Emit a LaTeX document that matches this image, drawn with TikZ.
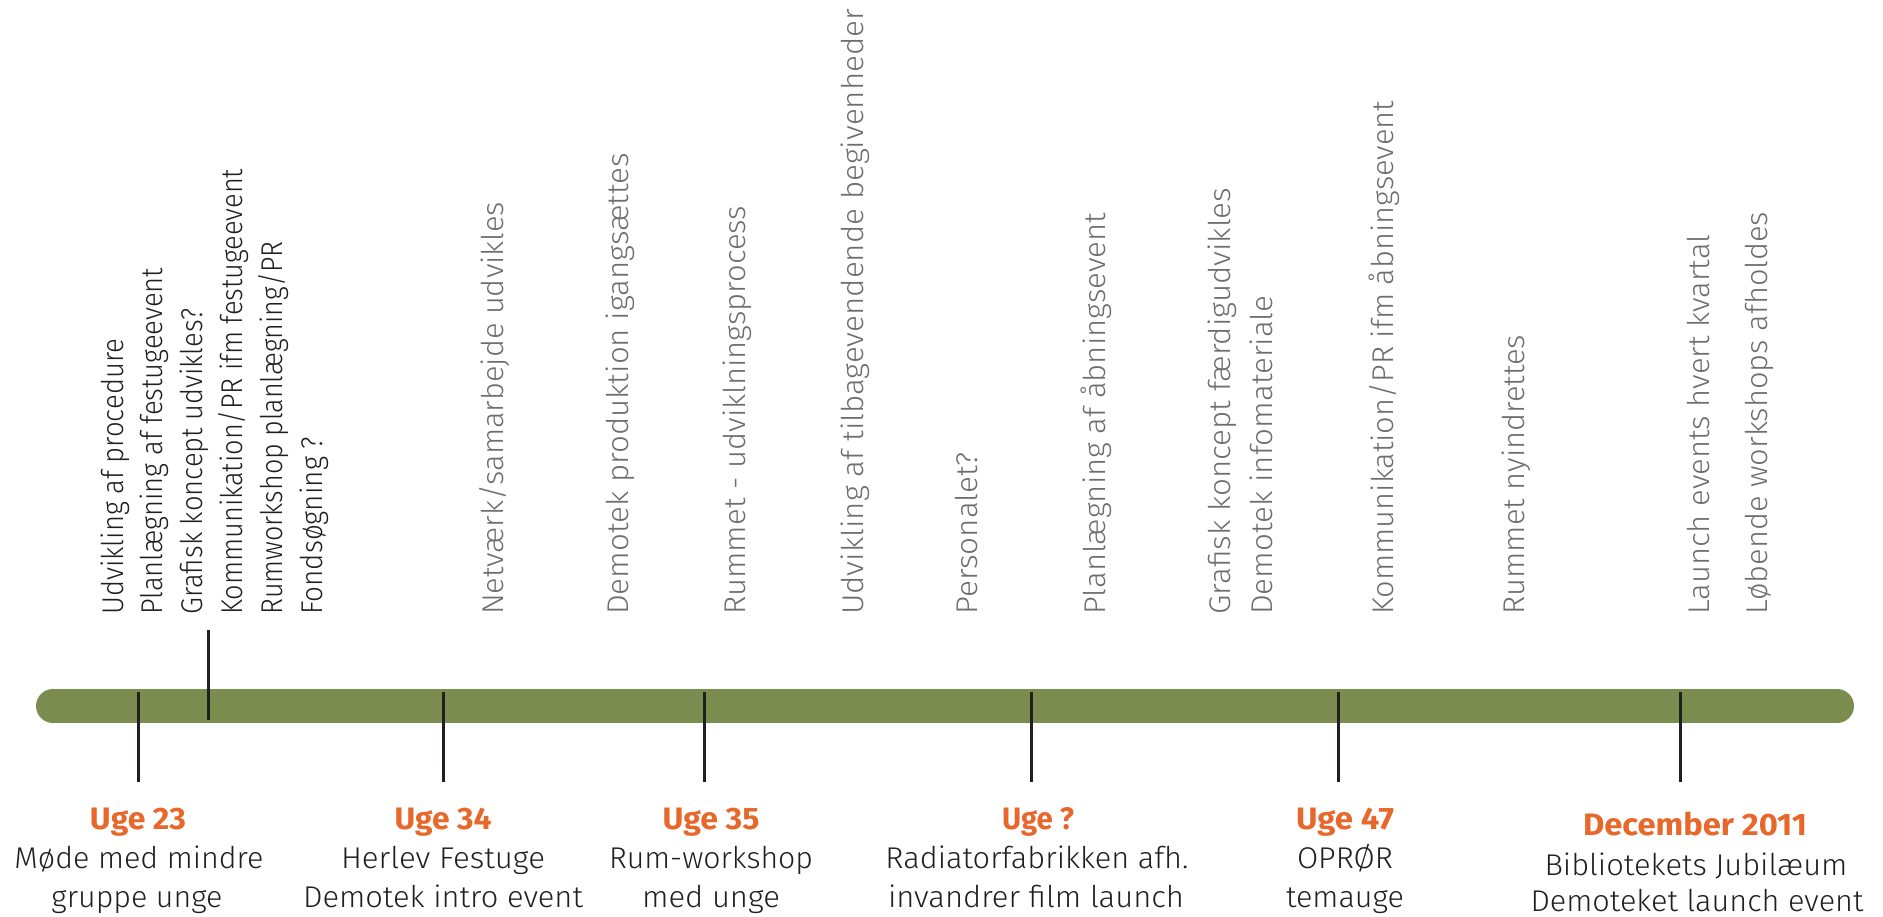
\documentclass[tikz,border=0pt]{standalone}
\usepackage{fontspec}
\setmainfont{Fira Sans}
\newfontfamily\lightfont{Fira Sans Light}
\newcommand\fw[2]{\resizebox{#1pt}{\height}{#2}}
\definecolor{bargreen}{RGB}{122,141,78}
\definecolor{orng}{RGB}{232,103,42}
\definecolor{ink}{RGB}{35,31,32}
\definecolor{greytxt}{RGB}{109,110,113}
\begin{document}
\begin{tikzpicture}[x=1pt,y=-1pt,
  vtext/.style={rotate=90,anchor=base west,inner sep=0pt},
  dark/.style={vtext,text=ink,font=\fontsize{30}{36}\lightfont},
  grey/.style={vtext,text=greytxt,font=\fontsize{30}{36}\lightfont},
  week/.style={anchor=base,inner sep=0pt,text=orng,font=\fontsize{31}{36}\selectfont\bfseries},
  desc/.style={anchor=base,inner sep=0pt,text=ink,font=\fontsize{30}{36}\lightfont},
  tick/.style={line width=3pt,draw=ink}]
\useasboundingbox (0,0) rectangle (1883,917);
% timeline bar
\coordinate (barL) at (53,706);
\coordinate (barR) at (1837,706);
\draw[line width=34pt,line cap=round,bargreen] (barL) -- (barR);
% ticks
\coordinate (t0a) at (208,630); \coordinate (t0b) at (208,720);
\draw[tick] (t0a) -- (t0b);
\foreach \i/\x in {1/138,2/443,3/704,4/1031,5/1338,6/1680}{
  \coordinate (t\i a) at (\x,692); \coordinate (t\i b) at (\x,782);
  \draw[tick] (t\i a) -- (t\i b);
}
% vertical texts, first group
\node[dark] (a1) at (123,615) {\fw{276}{Udvikling af procedure}};
\node[dark] (a2) at (162,615) {\fw{347}{Planlægning af festugeevent}};
\node[dark] (a3) at (202,615) {\fw{306}{Grafisk koncept udvikles?}};
\node[dark] (a4) at (242,615) {\fw{446}{Kommunikation/PR ifm festugeevent}};
\node[dark] (a5) at (282,615) {\fw{373}{Rumworkshop planlægning/PR}};
\node[dark] (a6) at (322,615) {\fw{178}{Fondsøgning ?}};
% vertical texts, grey
\node[grey] (b1) at (503,615) {\fw{413}{Netværk/samarbejde udvikles}};
\node[grey] (b2) at (628,615) {\fw{462}{Demotek produktion igangsættes}};
\node[grey] (b3) at (745,615) {\fw{409}{Rummet - udviklningsprocess}};
\node[grey] (b4) at (863,615) {\fw{606}{Udvikling af tilbagevendende begivenheder}};
\node[grey] (b5) at (977,615) {\fw{162}{Personalet?}};
\node[grey] (b6) at (1105,615) {\fw{402}{Planlægning af åbningsevent}};
\node[grey] (b7) at (1230,615) {\fw{427}{Grafisk koncept færdigudvikles}};
\node[grey] (b8) at (1272,615) {\fw{319}{Demotek infomateriale}};
\node[grey] (b9) at (1393,615) {\fw{514}{Kommunikation/PR ifm åbningsevent}};
\node[grey] (b10) at (1524,615) {\fw{280}{Rummet nyindrettes}};
\node[grey] (b11) at (1709,615) {\fw{380}{Launch events hvert kvartal}};
\node[grey] (b12) at (1767,615) {\fw{403}{Løbende workshops afholdes}};
% bottom labels
\node[week] (w1) at (138,829) {\fw{96}{Uge 23}};
\node[desc] (d1a) at (139,868) {\fw{249}{Møde med mindre}};
\node[desc] (d1b) at (137,907) {\fw{171}{gruppe unge}};
\node[week] (w2) at (443,829) {\fw{97}{Uge 34}};
\node[desc] (d2a) at (443,868) {\fw{204}{Herlev Festuge}};
\node[desc] (d2b) at (443,907) {\fw{280}{Demotek intro event}};
\node[week] (w3) at (711,829) {\fw{97}{Uge 35}};
\node[desc] (d3a) at (711,868) {\fw{204}{Rum-workshop}};
\node[desc] (d3b) at (711,907) {\fw{138}{med unge}};
\node[week] (w4) at (1038,829) {\fw{72}{Uge ?}};
\node[desc] (d4a) at (1037,868) {\fw{303}{Radiatorfabrikken afh.}};
\node[desc] (d4b) at (1036,907) {\fw{296}{invandrer film launch}};
\node[week] (w5) at (1345,829) {\fw{98}{Uge 47}};
\node[desc] (d5a) at (1345,868) {\fw{96}{OPRØR}};
\node[desc] (d5b) at (1345,907) {\fw{118}{temauge}};
\node[week] (w6) at (1695,835) {\fw{224}{December 2011}};
\node[desc] (d6a) at (1696,875) {\fw{303}{Bibliotekets Jubilæum}};
\node[desc] (d6b) at (1697,911) {\fw{333}{Demoteket launch event}};
\end{tikzpicture}
\end{document}
